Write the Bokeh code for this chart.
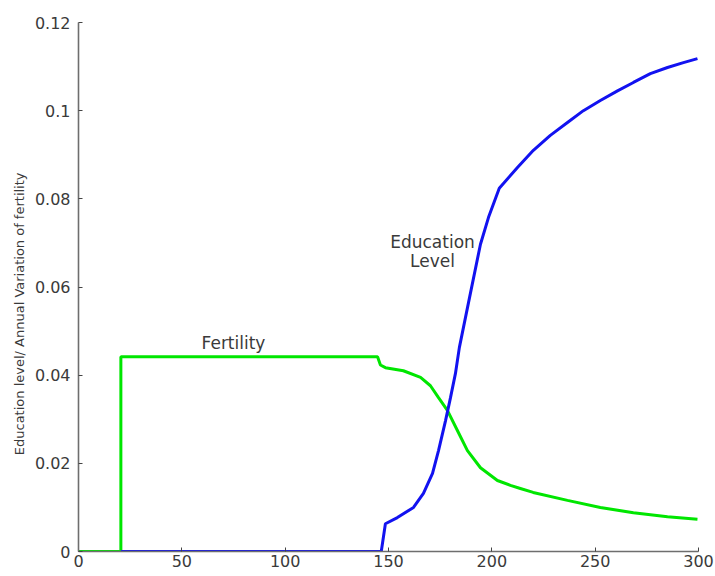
from bokeh.plotting import figure
from bokeh.models import FixedTicker
from bokeh.core.properties import value
from bokeh.embed import file_html
from bokeh.resources import INLINE

# Fertility (annual variation) curve
fert_x = [0, 20.5, 20.5, 144.7, 146.1, 148.5, 157.2, 165.5, 170.3, 174.2, 178.5, 183.4,
          188.2, 194.5, 202.7, 209, 213.8, 220, 236.6, 252.5, 268.5, 285, 299.5]
fert_y = [0, 0, 0.0442, 0.0442, 0.0423, 0.0417, 0.0410, 0.0395, 0.0376, 0.0349, 0.0320,
          0.0274, 0.0229, 0.0190, 0.0161, 0.0150, 0.0143, 0.0134, 0.0116, 0.0100, 0.0088,
          0.0079, 0.0073]

# Education level curve
edu_x = [20.5, 146.5, 148.5, 154.3, 162.1, 166.9, 171.3, 174.2, 177.6, 180, 182.4, 184.3,
         189.6, 194.5, 198.4, 203.6, 212.4, 220.1, 228.3, 236.6, 244.3, 252.5, 260.8,
         268.5, 276.7, 285, 292.7, 299.5]
edu_y = [0, 0, 0.0063, 0.0077, 0.0100, 0.0132, 0.0177, 0.0229, 0.0297, 0.0349, 0.0404,
         0.0463, 0.0585, 0.0697, 0.0758, 0.0824, 0.0871, 0.0910, 0.0944, 0.0973, 0.1000,
         0.1023, 0.1045, 0.1064, 0.1084, 0.1098, 0.1109, 0.1118]

x_ticks = [0, 50, 100, 150, 200, 250, 300]
y_ticks = [0, 0.02, 0.04, 0.06, 0.08, 0.1, 0.12]
y_tick_labels = ["0", "0.02", "0.04", "0.06", "0.08", "0.1", "0.12"]
y_title = "Education level/ Annual Variation of fertility"

p = figure(width=715, height=576, x_range=(0, 300), y_range=(0, 0.12),
           output_backend="svg", toolbar_location=None,
           min_border_left=78, min_border_right=17, min_border_top=22, min_border_bottom=25)
p.grid.visible = False
p.outline_line_color = None
p.background_fill_color = "white"
p.border_fill_color = "white"

for ax in (p.xaxis[0], p.yaxis[0]):
    ax.axis_line_color = "#6e6e6e"
    ax.axis_line_width = 1.6
    ax.major_tick_line_color = "#444444"
    ax.major_tick_in = 4
    ax.major_tick_out = 0
    ax.minor_tick_line_color = None
    ax.major_label_text_font = "DejaVu Sans"
    ax.major_label_text_font_size = "16px"
    ax.major_label_text_color = "#3a3a3a"

p.xaxis.ticker = FixedTicker(ticks=x_ticks)
p.yaxis.ticker = FixedTicker(ticks=y_ticks)
p.yaxis.major_label_overrides = {t: s for t, s in zip(y_ticks, y_tick_labels)}
p.xaxis.major_label_standoff = 3
p.yaxis.major_label_standoff = 8

# trailing no-break spaces push the visible title slightly below the frame centre
p.yaxis.axis_label = y_title + "\u00a0" * 13
p.yaxis.axis_label_text_font = "DejaVu Sans"
p.yaxis.axis_label_text_font_size = "13px"
p.yaxis.axis_label_text_font_style = "normal"
p.yaxis.axis_label_text_color = "#3a3a3a"
p.yaxis.axis_label_standoff = 5

p.line(fert_x, fert_y, line_color="#00e600", line_width=3)
p.line(edu_x, edu_y, line_color="#1212f0", line_width=3)

p.text(x=[75], y=[0.0474], text=["Fertility"], text_font=value("DejaVu Sans"),
       text_font_size="17px", text_color="#3a3a3a", text_align="center", text_baseline="middle")
p.text(x=[171.3], y=[0.0681], text=["Education\nLevel"], text_font=value("DejaVu Sans"),
       text_font_size="17px", text_color="#3a3a3a", text_align="center", text_baseline="middle",
       text_line_height=0.95)

open("out.html", "w").write(file_html(p, INLINE))
